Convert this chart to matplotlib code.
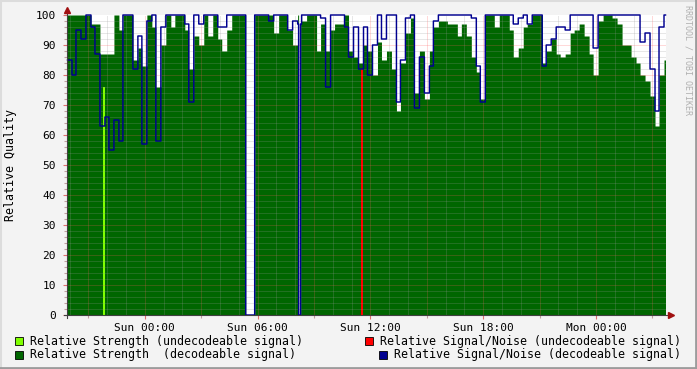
import numpy as np
import matplotlib
matplotlib.use('Agg')
from matplotlib import pyplot as plt
from matplotlib.lines import Line2D
from matplotlib.patches import Rectangle

# data in 15 minute bins, hours relative to Sun 00:00
bin_start = -4.14
bin_len = 0.25

strength = [100, 100, 100, 100, 100, 97, 97, 87, 87, 87, 100, 95, 100, 100, 85, 89, 83, 100, 96, 76, 90,
            100, 96, 100, 100, 95, 82, 93, 90, 100, 93, 100, 92, 88, 95, 100, 100, 100, 100, 100, 100, 100,
            100, 100, 94, 100, 100, 95, 90, 100, 98, 100, 100, 88, 97, 88, 95, 97, 97, 100, 88, 86, 84, 90,
            88, 80, 91, 85, 88, 82, 68, 84, 94, 99, 74, 88, 72, 88, 96, 98, 98, 97, 97, 93, 97, 93,
            86, 81, 72, 100, 100, 96, 100, 100, 95, 86, 89, 96, 97, 100, 100, 84, 88, 92, 87, 86, 87,
            94, 95, 97, 93, 87, 80, 98, 100, 100, 99, 97, 90, 90, 86, 84, 80, 78, 73, 63, 80, 85]

snr = [85, 80, 95, 92, 100, 96, 87, 63, 66, 55, 65, 58, 100, 100, 82, 93, 57, 98, 100, 58, 96,
       100, 100, 100, 100, 97, 71, 100, 97, 100, 100, 100, 96, 96, 100, 100, 100, 100, 100, 100, 100, 100,
       100, 98, 100, 100, 100, 95, 98, 97, 100, 100, 100, 100, 99, 76, 100, 100, 100, 96, 86, 96, 82, 96,
       80, 90, 100, 92, 100, 100, 71, 85, 99, 100, 69, 86, 74, 83, 98, 100, 100, 100, 100, 100, 100, 100,
       99, 83, 71, 100, 100, 100, 100, 100, 100, 97, 99, 100, 97, 100, 100, 83, 90, 92, 96, 96, 95,
       100, 100, 100, 100, 100, 89, 100, 100, 100, 100, 100, 100, 100, 100, 100, 91, 94, 82, 68, 96, 100]

# no data
gaps = [(5.36, 5.83), (8.20, 8.30)]

# undecodeable samples
undec_strength_t = [-2.18]
undec_strength_v = [76]
undec_snr_t = [11.54]
undec_snr_v = [82]

tick_hours = [0, 6, 12, 18, 24]
tick_labels = ['Sun 00:00', 'Sun 06:00', 'Sun 12:00', 'Sun 18:00', 'Mon 00:00']

t_left, t_right = -4.14, 27.72

W, H = 697, 369
def fx(px):
    return px / W
def fy(py):
    return 1 - py / H

plt.rcParams['font.family'] = 'DejaVu Sans Mono'
fig = plt.figure(figsize=(W / 100, H / 100), dpi=100, facecolor='#f3f3f3')
ax = fig.add_axes([fx(67), fy(315), 599 / W, 300 / H])
ax.set_facecolor('white')

# render bins onto pixel columns
ncol = 600
tc = t_left + (np.arange(ncol) + 0.5) * (t_right - t_left) / ncol
idx = np.clip(((tc - bin_start) / bin_len).astype(int), 0, len(strength) - 1)
g = np.array(strength, dtype=float)[idx]
b = np.array(snr, dtype=float)[idx]
for a, e in gaps:
    m = (tc >= a) & (tc <= e)
    g[m] = 0
    b[m] = 0

ax.fill_between(tc, 0, g, step='mid', color='#006600', lw=0, zorder=2)
ax.bar(undec_strength_t, undec_strength_v, width=0.08, color='#80ff00', lw=0, zorder=2.2)
ax.bar(undec_snr_t, undec_snr_v, width=0.09, color='#ff0000', lw=0, zorder=2.2)

# grid
minor_c = (0.6, 0.6, 0.6, 0.45)
major_c = (1.0, 0.35, 0.35, 0.45)
for h in range(-4, 28):
    ax.axvline(h, color=major_c if h % 3 == 0 else minor_c, lw=0.72, ls=(0, (1, 1)), zorder=3)
for v in range(2, 100, 2):
    ax.axhline(v, color=major_c if v % 10 == 0 else minor_c, lw=0.72, ls=(0, (1, 1)), zorder=3)

ax.step(tc, b, where='mid', color='#000090', lw=1.05, zorder=4, clip_on=False)

ax.set_xlim(t_left, t_right)
ax.set_ylim(0, 100)
for s in ax.spines.values():
    s.set_visible(False)

ax.set_xticks(tick_hours, tick_labels)
ax.set_xticks(range(-3, 28, 3), minor=True)
ax.set_yticks(range(0, 101, 10))
ax.set_yticks(range(0, 101, 2), minor=True)
ax.tick_params(which='major', length=3, width=0.8, color='#e07070', labelsize=8, pad=3)
ax.tick_params(which='minor', length=2, width=0.8, color='#c0a0a0')
ax.tick_params(axis='y', which='major', pad=5)
fig.text(fx(11), fy(165), 'Relative Quality', rotation=90, ha='center', va='center', fontsize=8.4)

# axis lines and arrows
fig.add_artist(Line2D([fx(67), fx(67)], [fy(318), fy(12)], color='#404040', lw=0.8))
fig.add_artist(Line2D([fx(64), fx(670)], [fy(315), fy(315)], color='#404040', lw=0.8))
fig.add_artist(Line2D([fx(67)], [fy(10)], marker='^', ms=5, color='#a01010', lw=0))
fig.add_artist(Line2D([fx(671)], [fy(315)], marker='>', ms=5, color='#a01010', lw=0))

# legend
legend = [(15, 341, '#80ff00', 'Relative Strength (undecodeable signal)'),
          (15, 354.5, '#006600', 'Relative Strength  (decodeable signal)'),
          (365, 341, '#ff0000', 'Relative Signal/Noise (undecodeable signal)'),
          (379, 354.5, '#000090', 'Relative Signal/Noise (decodeable signal)')]
for x, y, c, lab in legend:
    fig.add_artist(Rectangle((fx(x), fy(y + 4)), 8 / W, 8 / H, facecolor=c, edgecolor='black', lw=0.6))
    fig.text(fx(x + 15), fy(y), lab, ha='left', va='center', fontsize=8.4)

fig.text(fx(688), fy(5), 'RRDTOOL / TOBI OETIKER', rotation=270, ha='center', va='top',
         fontsize=6, color='#b0b0b0')

# frame
fig.add_artist(Line2D([0, 1], [fy(0.5), fy(0.5)], color='#dcdcdc', lw=1.5))
fig.add_artist(Line2D([fx(0.5), fx(0.5)], [0, 1], color='#dcdcdc', lw=1.5))
fig.add_artist(Line2D([0, 1], [fy(368), fy(368)], color='#9c9c9c', lw=2))
fig.add_artist(Line2D([fx(696), fx(696)], [0, 1], color='#9c9c9c', lw=2))

fig.savefig('out.png', dpi=100, facecolor=fig.get_facecolor())
